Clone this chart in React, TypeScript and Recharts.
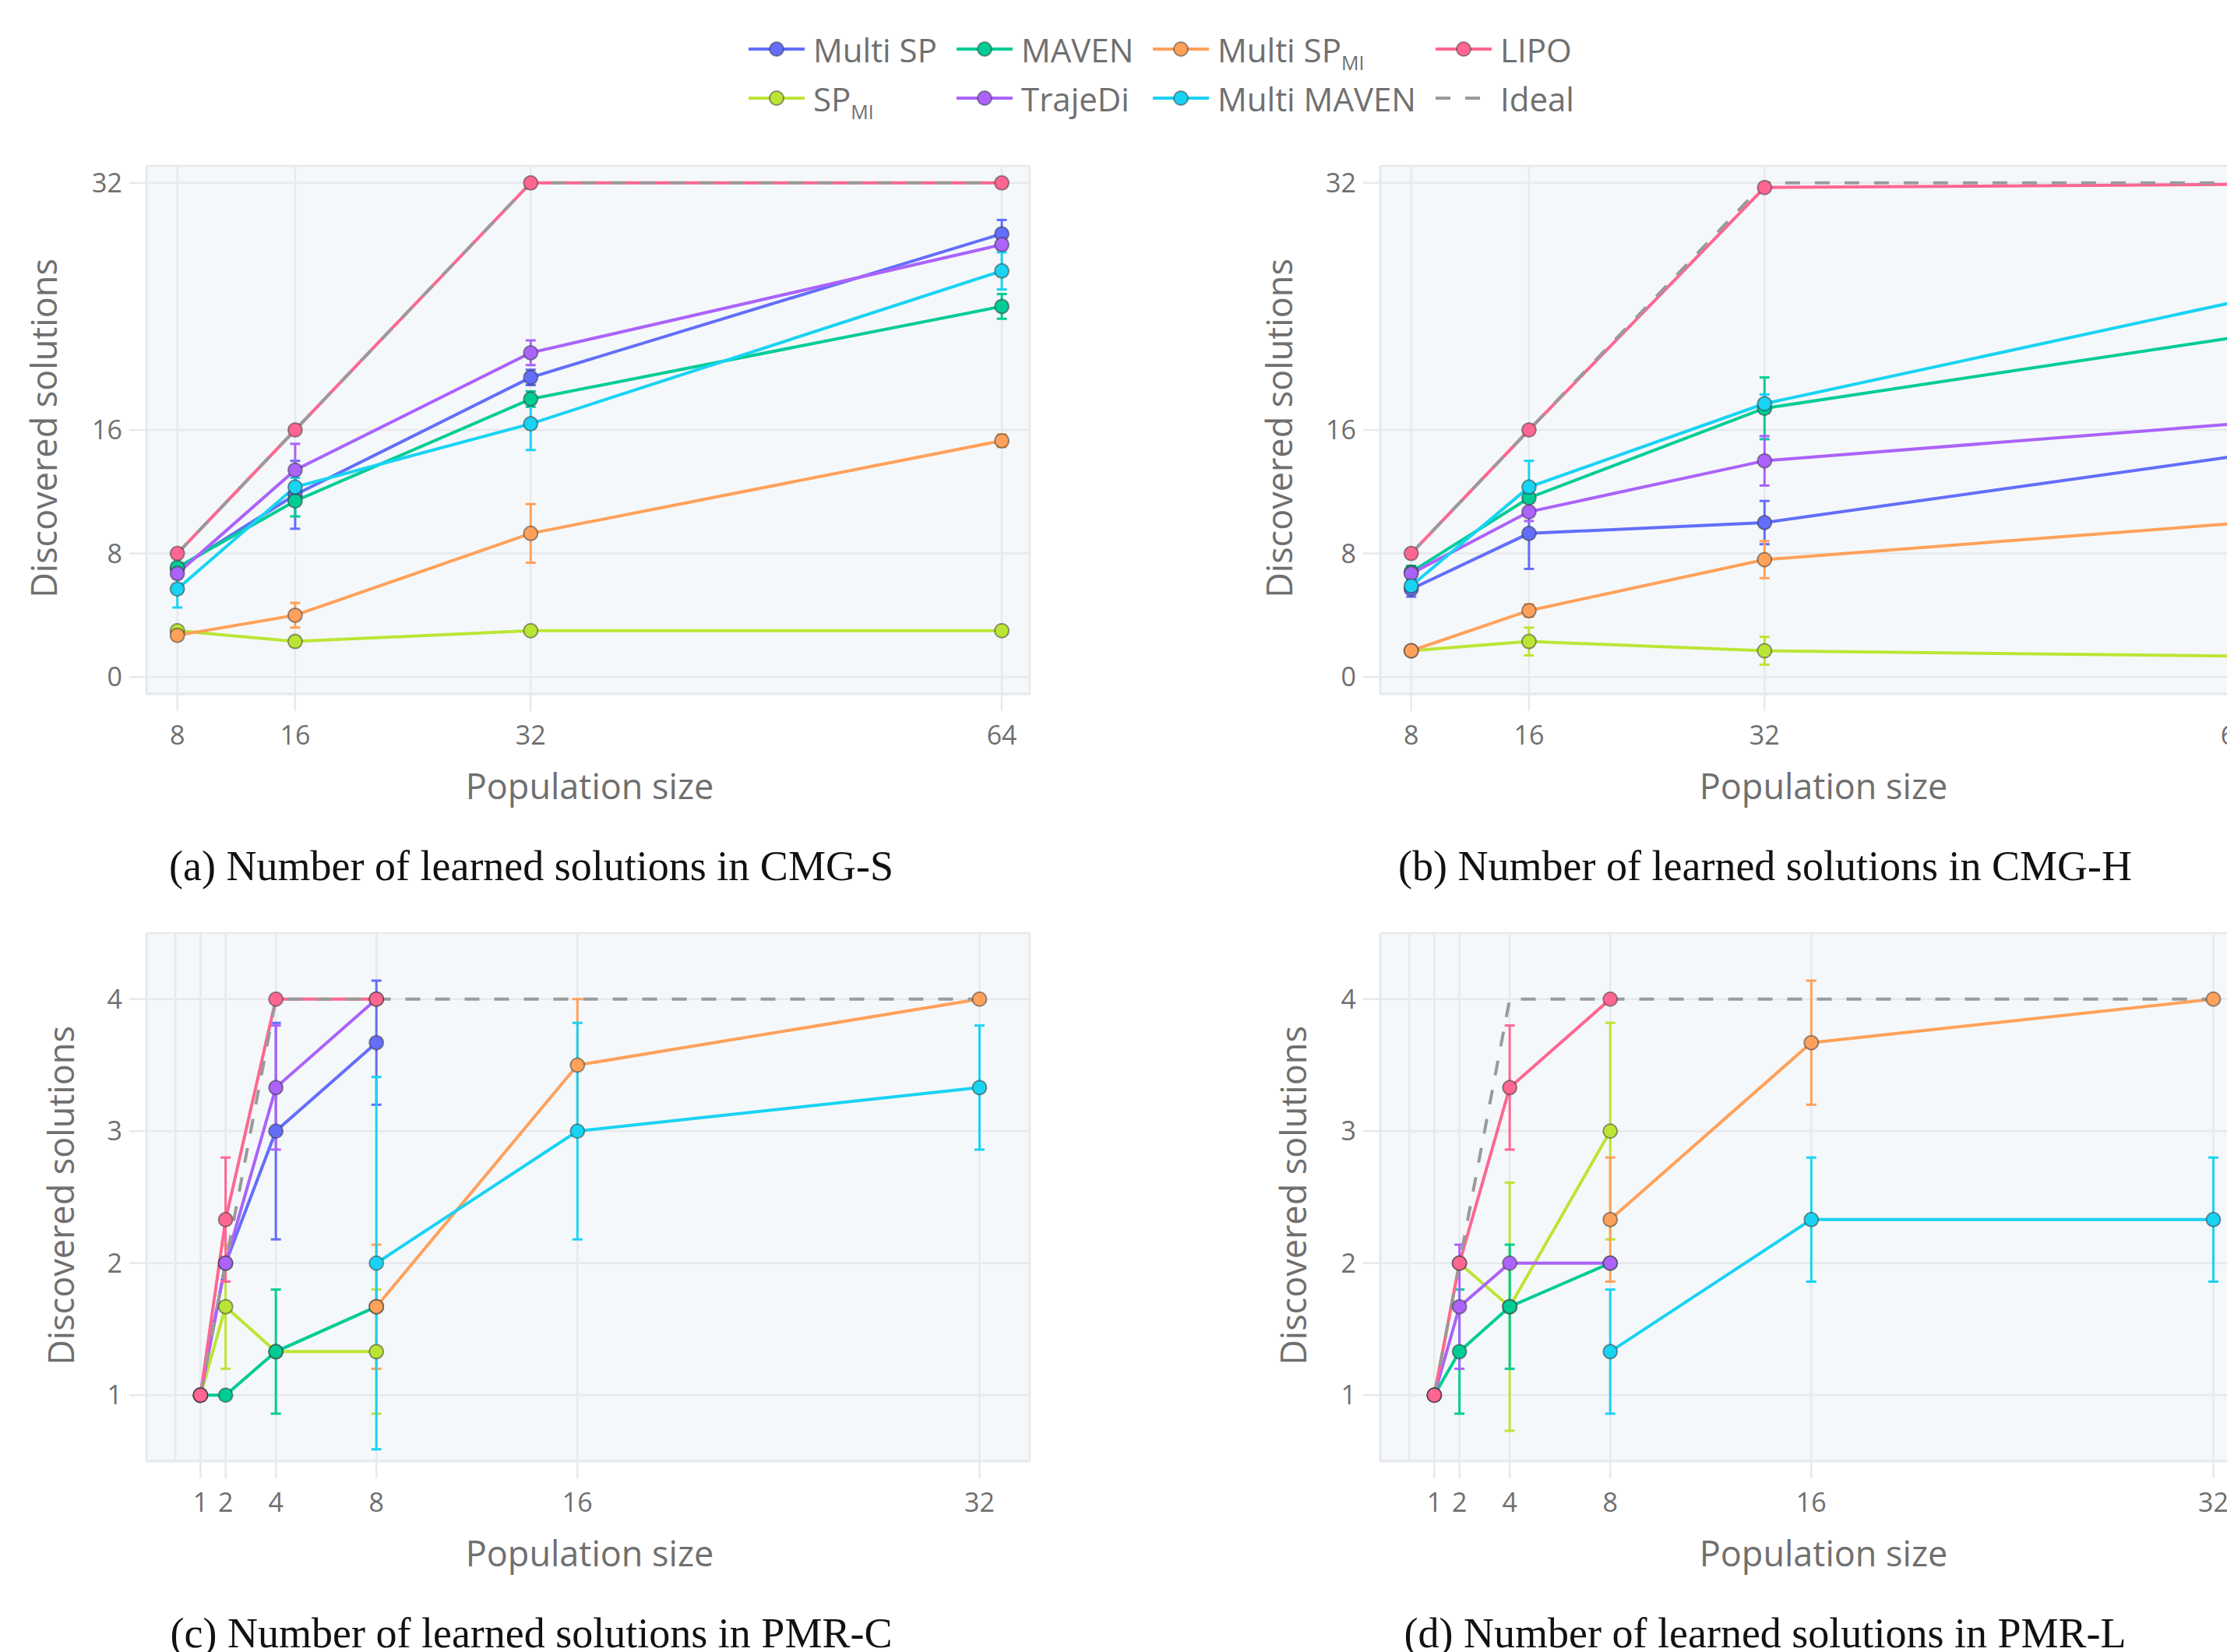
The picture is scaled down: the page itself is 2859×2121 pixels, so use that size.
import React from 'react'
import { LineChart, Line, XAxis, YAxis, CartesianGrid, ErrorBar, ReferenceLine } from 'recharts'

// series order = drawing order, "Ideal" always last
const seriesKeys = ['multiSP', 'spMI', 'maven', 'trajeDi', 'multiSPMI', 'multiMaven', 'lipo']
const seriesNames = ['Multi SP', 'SP_MI', 'MAVEN', 'TrajeDi', 'Multi SP_MI', 'Multi MAVEN', 'LIPO']
const seriesColors = ['#636efa', '#bbe535', '#00cc96', '#ab63fa', '#ffa15a', '#19d3f3', '#ff6692']
const idealColor = '#9a9a9a'

// legend reads row by row
const legendRows = [
  ['Multi SP', 'MAVEN', 'Multi SP_MI', 'LIPO'],
  ['SP_MI', 'TrajeDi', 'Multi MAVEN', 'Ideal'],
]

const yTitle = 'Discovered solutions'
const xTitle = 'Population size'
const captions = [
  '(a) Number of learned solutions in CMG-S',
  '(b) Number of learned solutions in CMG-H',
  '(c) Number of learned solutions in PMR-C',
  '(d) Number of learned solutions in PMR-L',
]

// ---- (a) CMG-S ----
const popCMG = [8, 16, 32, 64]
const sMultiSP = [7.0, 11.8, 19.4, 28.7]
const sMultiSPErr = [0.3, 2.2, 0.5, 0.9]
const sSpMI = [3.0, 2.3, 3.0, 3.0]
const sSpMIErr = [0.2, 0.3, null, null]
const sMaven = [7.1, 11.4, 18.0, 24.0]
const sMavenErr = [0.3, 1.0, 0.5, 0.8]
const sTrajeDi = [6.7, 13.4, 21.0, 28.0]
const sTrajeDiErr = [0.3, 1.7, 0.8, 0.3]
const sMultiSPMI = [2.7, 4.0, 9.3, 15.3]
const sMultiSPMIErr = [0.3, 0.8, 1.9, 0.4]
const sMultiMaven = [5.7, 12.3, 16.4, 26.3]
const sMultiMavenErr = [1.2, 0.6, 1.7, 1.2]
const sLipo = [8, 16, 32, 32]
const sIdeal = [8, 16, 32, 32]

// ---- (b) CMG-H ----
const hMultiSP = [5.7, 9.3, 10.0, 14.3]
const hMultiSPErr = [0.5, 2.3, 1.4, null]
const hSpMI = [1.7, 2.3, 1.7, 1.35]
const hSpMIErr = [0.2, 0.9, 0.9, null]
const hMaven = [6.8, 11.6, 17.4, 22.0]
const hMavenErr = [0.4, 0.8, 2.0, null]
const hTrajeDi = [6.7, 10.7, 14.0, 16.4]
const hTrajeDiErr = [0.3, 0.6, 1.6, null]
const hMultiSPMI = [1.7, 4.3, 7.6, 9.95]
const hMultiSPMIErr = [0.3, 0.4, 1.2, null]
const hMultiMaven = [5.9, 12.3, 17.7, 24.3]
const hMultiMavenErr = [0.4, 1.7, 0.6, null]
const hLipo = [8, 16, 31.7, 31.9]
const hIdeal = [8, 16, 32, 32]

// ---- (c) PMR-C ----
const popPMR = [1, 2, 4, 8, 16, 32]
const cMultiSP = [1, 2, 3, 3.67, null, null]
const cMultiSPErr = [null, null, 0.82, 0.47, null, null]
const cSpMI = [1, 1.67, 1.33, 1.33, null, null]
const cSpMIErr = [null, 0.47, null, 0.47, null, null]
const cMaven = [1, 1, 1.33, 1.67, null, null]
const cMavenErr = [null, null, 0.47, null, null, null]
const cTrajeDi = [1, 2, 3.33, 4, null, null]
const cTrajeDiErr = [null, null, 0.47, null, null, null]
const cMultiSPMI = [null, null, null, 1.67, 3.5, 4]
const cMultiSPMIErr = [null, null, null, 0.47, 0.5, null]
const cMultiMaven = [null, null, null, 2, 3, 3.33]
const cMultiMavenErr = [null, null, null, 1.41, 0.82, 0.47]
const cLipo = [1, 2.33, 4, 4, null, null]
const cLipoErr = [null, 0.47, null, null, null, null]
const cIdeal = [1, 2, 4, 4, 4, 4]

// ---- (d) PMR-L ----
const dSpMI = [1, 2, 1.67, 3, null, null]
const dSpMIErr = [null, null, 0.94, 0.82, null, null]
const dMaven = [1, 1.33, 1.67, 2, null, null]
const dMavenErr = [null, 0.47, 0.47, null, null, null]
const dTrajeDi = [1, 1.67, 2, 2, null, null]
const dTrajeDiErr = [null, 0.47, null, null, null, null]
const dMultiSPMI = [null, null, null, 2.33, 3.67, 4]
const dMultiSPMIErr = [null, null, null, 0.47, 0.47, null]
const dMultiMaven = [null, null, null, 1.33, 2.33, 2.33]
const dMultiMavenErr = [null, null, null, 0.47, 0.47, 0.47]
const dLipo = [1, 2, 3.33, 4, null, null]
const dLipoErr = [null, null, 0.47, null, null, null]
const dIdeal = [1, 2, 4, 4, 4, 4]

const ticksCMGx = [8, 16, 32, 64]
const ticksCMGy = [0, 8, 16, 32]
const ticksPMRx = [1, 2, 4, 8, 16, 32]
const ticksPMRy = [1, 2, 3, 4]

type Vals = (number | null)[]

function buildRows(pop: number[], vals: Record<string, Vals>, errs: Record<string, Vals>, ideal: number[]) {
  return pop.map((x, i) => {
    const row: Record<string, number | null> = { x, ideal: ideal[i] }
    for (const k of Object.keys(vals)) row[k] = vals[k][i]
    for (const k of Object.keys(errs)) row[k + 'Err'] = errs[k][i]
    return row
  })
}

const rowsA = buildRows(
  popCMG,
  { multiSP: sMultiSP, spMI: sSpMI, maven: sMaven, trajeDi: sTrajeDi, multiSPMI: sMultiSPMI, multiMaven: sMultiMaven, lipo: sLipo },
  { multiSP: sMultiSPErr, spMI: sSpMIErr, maven: sMavenErr, trajeDi: sTrajeDiErr, multiSPMI: sMultiSPMIErr, multiMaven: sMultiMavenErr },
  sIdeal,
)
const rowsB = buildRows(
  popCMG,
  { multiSP: hMultiSP, spMI: hSpMI, maven: hMaven, trajeDi: hTrajeDi, multiSPMI: hMultiSPMI, multiMaven: hMultiMaven, lipo: hLipo },
  { multiSP: hMultiSPErr, spMI: hSpMIErr, maven: hMavenErr, trajeDi: hTrajeDiErr, multiSPMI: hMultiSPMIErr, multiMaven: hMultiMavenErr },
  hIdeal,
)
const rowsC = buildRows(
  popPMR,
  { multiSP: cMultiSP, spMI: cSpMI, maven: cMaven, trajeDi: cTrajeDi, multiSPMI: cMultiSPMI, multiMaven: cMultiMaven, lipo: cLipo },
  { multiSP: cMultiSPErr, spMI: cSpMIErr, maven: cMavenErr, trajeDi: cTrajeDiErr, multiSPMI: cMultiSPMIErr, multiMaven: cMultiMavenErr, lipo: cLipoErr },
  cIdeal,
)
const rowsD = buildRows(
  popPMR,
  { spMI: dSpMI, maven: dMaven, trajeDi: dTrajeDi, multiSPMI: dMultiSPMI, multiMaven: dMultiMaven, lipo: dLipo },
  { spMI: dSpMIErr, maven: dMavenErr, trajeDi: dTrajeDiErr, multiSPMI: dMultiSPMIErr, multiMaven: dMultiMavenErr, lipo: dLipoErr },
  dIdeal,
)

const gridColor = '#e7e9ec'
const textGray = '#6f6f6f'
const sans = '"Open Sans", sans-serif'

function Name({ label, sub = 25 }: { label: string; sub?: number }) {
  const [base, low] = label.split('_')
  return (
    <>
      {base}
      {low && <span style={{ fontSize: sub, position: 'relative', top: 10 }}>{low}</span>}
    </>
  )
}

function LegendIcon({ color, dashed }: { color: string; dashed?: boolean }) {
  return (
    <svg width={72} height={24} style={{ display: 'block' }}>
      <line x1={0} x2={72} y1={12} y2={12} stroke={color} strokeWidth={4} strokeDasharray={dashed ? '19 19' : undefined} />
      {!dashed && <circle cx={36} cy={12} r={9} fill={color} stroke="rgba(50,50,50,0.5)" strokeWidth={2} />}
    </svg>
  )
}

const legendColX = [961, 1228, 1480, 1843]
const legendRowY = [63, 126]

function Legend() {
  return (
    <>
      {legendRows.map((row, ri) =>
        row.map((name, ci) => {
          const idx = seriesNames.indexOf(name)
          const color = idx >= 0 ? seriesColors[idx] : idealColor
          return (
            <div
              key={name}
              style={{
                position: 'absolute', left: legendColX[ci], top: legendRowY[ri] - 30, height: 60,
                display: 'flex', alignItems: 'center', fontFamily: sans, fontSize: 42, color: textGray, whiteSpace: 'nowrap',
              }}
            >
              <LegendIcon color={color} dashed={idx < 0} />
              <span style={{ marginLeft: 11 }}><Name label={name} /></span>
            </div>
          )
        }),
      )}
    </>
  )
}

interface PanelProps {
  left: number
  top: number
  rows: Record<string, number | null>[]
  keys: string[]
  xDomain: [number, number]
  xTicks: number[]
  yDomain: [number, number]
  yTicks: number[]
  zeroLine?: boolean
  yTitleX: number
  caption: string
}

const W = 1340
const H = 1000

function Panel({ left, top, rows, keys, xDomain, xTicks, yDomain, yTicks, zeroLine, yTitleX, caption }: PanelProps) {
  const tick = { fontSize: 34, fill: textGray, fontFamily: sans }
  return (
    <>
      <div style={{ position: 'absolute', left, top, width: W, height: H }}>
        <LineChart width={W} height={H} data={rows} margin={{ top: 213, right: 18, bottom: 49, left: 0 }}>
          <CartesianGrid fill="#f5f8fa" fillOpacity={1} stroke={gridColor} strokeWidth={2.5} />
          <XAxis
            type="number" dataKey="x" domain={xDomain} ticks={xTicks} interval={0} allowDataOverflow height={60}
            tick={tick} tickSize={22} tickMargin={19}
            tickLine={{ stroke: gridColor, strokeWidth: 2.5 }} axisLine={{ stroke: gridColor, strokeWidth: 3 }}
          />
          <YAxis
            type="number" domain={yDomain} ticks={yTicks} interval={0} allowDataOverflow width={188}
            tick={tick} tickSize={22} tickMargin={9}
            tickLine={{ stroke: gridColor, strokeWidth: 2.5 }} axisLine={{ stroke: gridColor, strokeWidth: 3 }}
          />
          {zeroLine && <ReferenceLine x={0} stroke={gridColor} strokeWidth={2.5} />}
          {keys.map((k) => {
            const color = seriesColors[seriesKeys.indexOf(k)]
            return (
              <Line
                key={k} type="linear" dataKey={k} stroke={color} strokeWidth={4}
                dot={{ r: 9, fill: color, stroke: 'rgba(50,50,50,0.5)', strokeWidth: 2, fillOpacity: 1 }}
                activeDot={false} isAnimationActive={false}
              >
                <ErrorBar dataKey={k + 'Err'} direction="y" width={6.5} strokeWidth={3} stroke={color} isAnimationActive={false} />
              </Line>
            )
          })}
          <Line type="linear" dataKey="ideal" stroke={idealColor} strokeWidth={4} strokeDasharray="19 19" dot={false} activeDot={false} isAnimationActive={false} />
        </LineChart>
      </div>
      <div
        style={{
          position: 'absolute', left: left + yTitleX, top: top + 550, transform: 'translate(-50%, -50%) rotate(-90deg)',
          fontFamily: sans, fontSize: 45, color: textGray, whiteSpace: 'nowrap',
        }}
      >
        {yTitle}
      </div>
      <div
        style={{
          position: 'absolute', left: left + 757, top: top + 1008, transform: 'translate(-50%, -50%)',
          fontFamily: sans, fontSize: 45, color: textGray, whiteSpace: 'nowrap',
        }}
      >
        {xTitle}
      </div>
      <div
        style={{
          position: 'absolute', left: left + 682, top: top + 1112, transform: 'translate(-50%, -50%)',
          fontFamily: '"Liberation Serif", "Times New Roman", serif', fontSize: 54, color: '#111', whiteSpace: 'nowrap',
        }}
      >
        {caption}
      </div>
    </>
  )
}

const keysAll = seriesKeys
const keysD = seriesKeys.filter((k) => k !== 'multiSP')

export default function App() {
  return (
    <div style={{ position: 'absolute', left: 0, top: 0, width: 2859, height: 2121, overflow: 'hidden', background: '#fff' }}>
      <Legend />
      <Panel left={0} top={0} rows={rowsA} keys={keysAll} xDomain={[5.9, 65.9]} xTicks={ticksCMGx} yDomain={[-1.1, 33.1]} yTicks={ticksCMGy} yTitleX={55} caption={captions[0]} />
      <Panel left={1584} top={0} rows={rowsB} keys={keysAll} xDomain={[5.9, 65.9]} xTicks={ticksCMGx} yDomain={[-1.1, 33.1]} yTicks={ticksCMGy} yTitleX={57} caption={captions[1]} />
      <Panel left={0} top={985} rows={rowsC} keys={keysAll} xDomain={[-1.15, 34.0]} xTicks={ticksPMRx} yDomain={[0.5, 4.5]} yTicks={ticksPMRy} zeroLine yTitleX={77} caption={captions[2]} />
      <Panel left={1584} top={985} rows={rowsD} keys={keysD} xDomain={[-1.15, 34.0]} xTicks={ticksPMRx} yDomain={[0.5, 4.5]} yTicks={ticksPMRy} zeroLine yTitleX={75} caption={captions[3]} />
    </div>
  )
}
